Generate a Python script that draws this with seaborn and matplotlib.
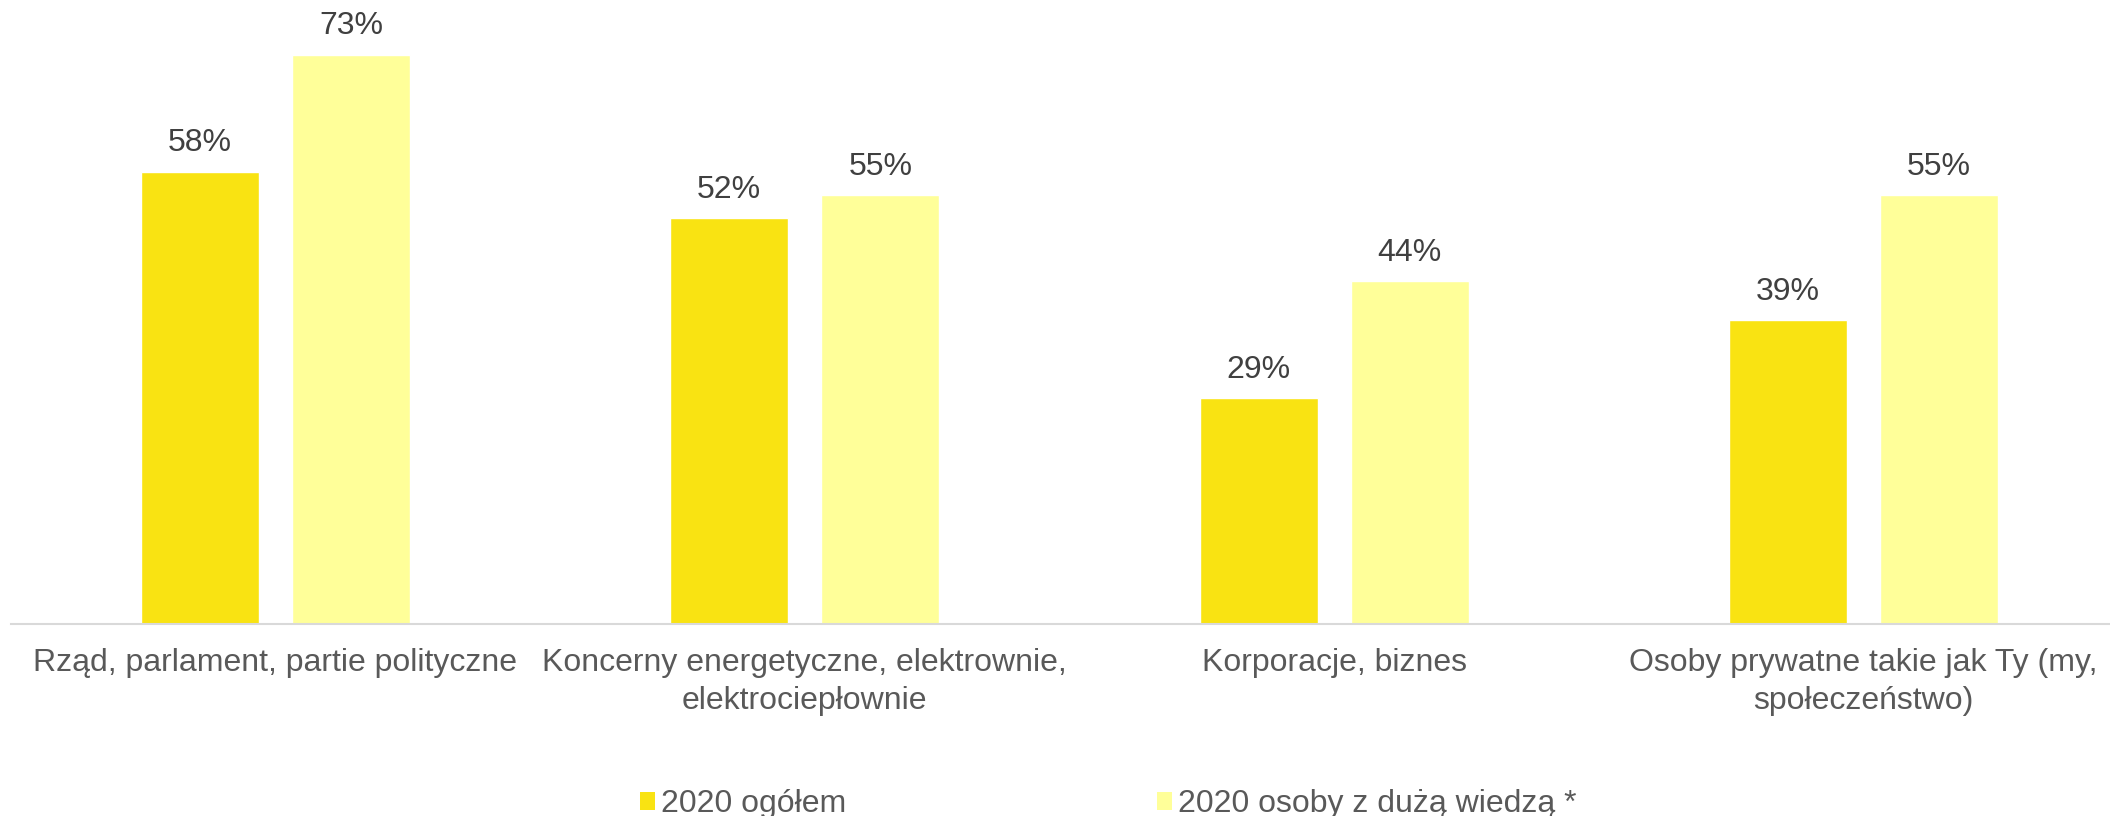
import pandas as pd
import matplotlib.pyplot as plt
import seaborn as sns
from matplotlib.patches import Patch

categories = [
    "Rząd, parlament, partie polityczne",
    "Koncerny energetyczne, elektrownie,\nelektrociepłownie",
    "Korporacje, biznes",
    "Osoby prywatne takie jak Ty (my,\nspołeczeństwo)",
]
series = ["2020 ogółem", "2020 osoby z dużą wiedzą *"]
values_all = [58, 52, 29, 39]
values_expert = [73, 55, 44, 55]
colors = ["#F9E312", "#FFFF99"]

df = pd.DataFrame({
    "kategoria": categories * 2,
    "seria": [series[0]] * 4 + [series[1]] * 4,
    "wartosc": values_all + values_expert,
})

sns.set_style("white")
plt.rcParams["font.family"] = ["Liberation Sans", "DejaVu Sans"]

fig = plt.figure(figsize=(21.1, 8.16), dpi=100)
ax = fig.add_axes([0.0051, 0.2353, 1.0035, 0.7647])

sns.barplot(data=df, x="kategoria", y="wartosc", hue="seria",
            palette=colors, width=0.571, gap=0.22, ax=ax, legend=False,
            saturation=1)

for cont in ax.containers:
    labels = [f"{int(round(b.get_height()))}%" for b in cont]
    ax.bar_label(cont, labels=labels, padding=9.5, fontsize=23, color="#404040")

ax.set_xlim(-0.5, 3.5)
ax.set_ylim(0, 80)
ax.set_xlabel("")
ax.set_ylabel("")
ax.set_yticks([])
for s in ["top", "right", "left"]:
    ax.spines[s].set_visible(False)
ax.spines["bottom"].set_color("#D9D9D9")
ax.spines["bottom"].set_linewidth(1.5)
ax.tick_params(axis="x", length=0, pad=17.5, labelsize=23, labelcolor="#595959")
for lbl in ax.get_xticklabels():
    lbl.set_linespacing(1.33)

handles = [Patch(facecolor=c, edgecolor="none") for c in colors]
fig.legend(handles, series, loc="center left", bbox_to_anchor=(640 / 2110, 0.0145),
           ncol=2, frameon=False, fontsize=23, labelcolor="#595959",
           handlelength=0.47, handleheight=0.47, handletextpad=0.18,
           columnspacing=9.75, borderpad=0, borderaxespad=0)

fig.savefig("out.png", dpi=100)
